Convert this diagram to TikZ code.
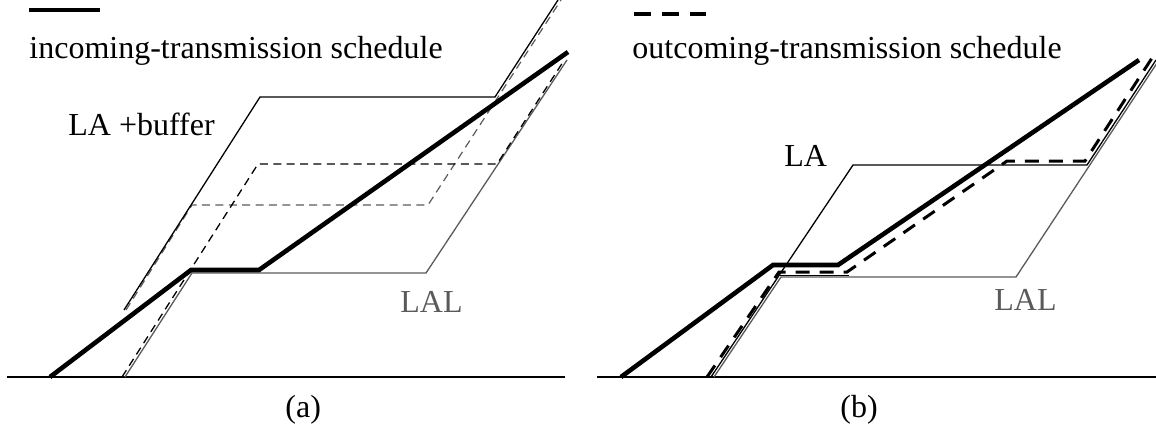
\documentclass[tikz,border=0pt]{standalone}
\usepackage{fontspec}
\setmainfont{Liberation Serif}
\definecolor{lalgray}{RGB}{90,90,90}
\tikzset{
  thickln/.style={line width=2.3pt},
  thinln/.style={line width=0.65pt},
  grayln/.style={line width=0.65pt, draw=lalgray},
  dasha/.style={line width=0.65pt, dash pattern=on 4pt off 2.7pt},
  graydash/.style={line width=0.6pt, draw=lalgray, dash pattern=on 4pt off 2.7pt},
  dashb/.style={line width=1.5pt, dash pattern=on 7pt off 5pt},
  legdash/.style={line width=2pt, dash pattern=on 8.5pt off 5.5pt},
  lbl/.style={inner sep=0pt, anchor=base west, font=\fontsize{16}{19}\selectfont},
  graylbl/.style={lbl, text=lalgray},
}
\begin{document}
\begin{tikzpicture}[x=0.5pt, y=-0.5pt]
\useasboundingbox (0,0) rectangle (1156,429);

% ---------------- panel (a) ----------------
\coordinate (aB0) at (7,377);   \coordinate (aB1) at (565,377);
\coordinate (aL0) at (29,10);   \coordinate (aL1) at (100,10);
% incoming schedule (thick)
\coordinate (aT0) at (50,377);  \coordinate (aT1) at (191,270);
\coordinate (aT2) at (259,270); \coordinate (aT3) at (568,52);
% LA + buffer (thin solid)
\coordinate (aU0) at (124,310); \coordinate (aU1) at (260,97);
\coordinate (aU2) at (495,97);  \coordinate (aU3) at (558,0);
% gray dashed
\coordinate (aG0) at (126,310); \coordinate (aG1) at (192,205);
\coordinate (aG2) at (428,205); \coordinate (aG3) at (561,0);
% black dashed
\coordinate (aD0) at (122,377); \coordinate (aD1) at (258,164);
\coordinate (aD2) at (497,164); \coordinate (aD3) at (563,62);
% LAL (gray solid)
\coordinate (aS0) at (125,377); \coordinate (aS1) at (192,273);
\coordinate (aS2) at (426,273); \coordinate (aS3) at (567,60);

\draw[thinln] (aB0) -- (aB1);
\draw[thickln] (aL0) -- (aL1);
\node[lbl] (inc) at (29,58) {incoming-transmission schedule};

\draw[grayln] (aS0) -- (aS1) -- (aS2) -- (aS3);
\draw[graydash] (aG0) -- (aG1) -- (aG2) -- (aG3);
\draw[dasha] (aD0) -- (aD1) -- (aD2) -- (aD3);
\draw[thinln] (aU0) -- (aU1) -- (aU2) -- (aU3);
\draw[thickln] (aT0) -- (aT1) -- (aT2) -- (aT3);

\node[lbl] (labuf) at (68,135) {LA +buffer};
\node[graylbl] (lala) at (400,312) {LAL};
\node[lbl] (capa) at (285,417) {(a)};

% ---------------- panel (b) ----------------
\coordinate (bB0) at (597,377);  \coordinate (bB1) at (1156,377);
\coordinate (bL0) at (634,14);   \coordinate (bL1) at (706,14);
% incoming schedule (thick)
\coordinate (bT0) at (621,377);  \coordinate (bT1) at (773,265);
\coordinate (bT2) at (838,265);  \coordinate (bT3) at (1139,60);
% LA (thin solid)
\coordinate (bA0) at (711,377);  \coordinate (bA1) at (853,165);
\coordinate (bA2) at (1087,165); \coordinate (bA3) at (1156,60);
% LAL (gray solid)
\coordinate (bS0) at (714,377);  \coordinate (bS1) at (781,277);
\coordinate (bS2) at (1016,277); \coordinate (bS3) at (1159,60);
% thin black along the start of LAL top
\coordinate (bK0) at (780,275.5); \coordinate (bK1) at (849,275.5);
% outgoing schedule (thick dashed)
\coordinate (bD0) at (707,377);  \coordinate (bD1) at (779,272);
\coordinate (bD2) at (847,272);  \coordinate (bD3) at (1007,161);
\coordinate (bD4) at (1085,161); \coordinate (bD5) at (1152,58);

\draw[thinln] (bB0) -- (bB1);
\draw[legdash] (bL0) -- (bL1);
\node[lbl] (outc) at (632,58) {outcoming-transmission schedule};

\draw[grayln] (bS0) -- (bS1) -- (bS2) -- (bS3);
\draw[thinln] (bK0) -- (bK1);
\draw[thinln] (bA0) -- (bA1) -- (bA2) -- (bA3);
\draw[dashb] (bD0) -- (bD1) -- (bD2) -- (bD3) -- (bD4) -- (bD5);
\draw[thickln] (bT0) -- (bT1) -- (bT2) -- (bT3);

\node[lbl] (lab) at (784,166) {LA};
\node[graylbl] (lalb) at (994,310) {LAL};
\node[lbl] (capb) at (840,417) {(b)};
\end{tikzpicture}
\end{document}
